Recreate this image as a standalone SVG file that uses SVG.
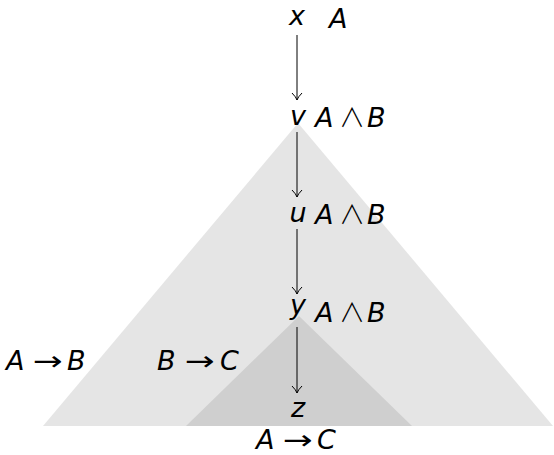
<svg xmlns="http://www.w3.org/2000/svg" width="554" height="455" viewBox="0 0 554 455">
<style>
text{font-family:"DejaVu Sans",sans-serif;font-style:italic;font-size:27px;fill:#000}
.n{text-anchor:middle}
.s{font-family:"DejaVu Sans",sans-serif;font-style:normal}
.w{font-family:"Noto Sans CJK SC","DejaVu Sans",sans-serif;font-style:normal;font-weight:300;font-size:26px;text-anchor:middle}
.e{stroke:#000;stroke-width:1;fill:none}
</style>
<defs>
<marker id="ah" viewBox="-8 -6 10 12" refX="0" refY="0" markerWidth="10" markerHeight="12" markerUnits="userSpaceOnUse" orient="auto">
<path d="M-7,-5 Q-3,-1 0,0 Q-3,1 -7,5" fill="none" stroke="#000" stroke-width="1"/>
</marker>
</defs>
<rect width="554" height="455" fill="#fff"/>
<g id="tri-outer"><polygon points="298,123 43,426 553,426" fill="#e5e5e5"/></g>
<g id="tri-inner"><polygon points="299,316 186,426 412,426" fill="#cfcfcf"/></g>
<g id="connectors">
<line class="e" x1="297" y1="35" x2="297" y2="100" marker-end="url(#ah)"/>
<line class="e" x1="297" y1="132" x2="297" y2="197" marker-end="url(#ah)"/>
<line class="e" x1="297" y1="229" x2="297" y2="294" marker-end="url(#ah)"/>
<line class="e" x1="297" y1="327" x2="297" y2="393" marker-end="url(#ah)"/>
</g>
<g id="x"><text class="n" x="297" y="25">x</text><text x="329" y="28">A</text></g>
<g id="v"><text class="n" x="298" y="125">v</text><text x="315" y="127">A</text><text class="w" x="352" y="127">∧</text><text x="367" y="127">B</text></g>
<g id="u"><text class="n" x="298" y="222">u</text><text x="315" y="224">A</text><text class="w" x="352" y="224">∧</text><text x="367" y="224">B</text></g>
<g id="y"><text class="n" x="298" y="314">y</text><text x="315" y="322">A</text><text class="w" x="352" y="322">∧</text><text x="367" y="322">B</text></g>
<g id="z"><text class="n" x="298" y="417">z</text></g>
<g id="labels">
<text x="6" y="370">A</text><text class="s" x="33" y="370" textLength="30" lengthAdjust="spacingAndGlyphs">→</text><text x="67" y="370">B</text>
<text x="157" y="370">B</text><text class="s" x="185" y="370" textLength="30" lengthAdjust="spacingAndGlyphs">→</text><text x="220" y="370">C</text>
<text x="256" y="449">A</text><text class="s" x="283" y="449" textLength="30" lengthAdjust="spacingAndGlyphs">→</text><text x="317" y="449">C</text>
</g>
</svg>
